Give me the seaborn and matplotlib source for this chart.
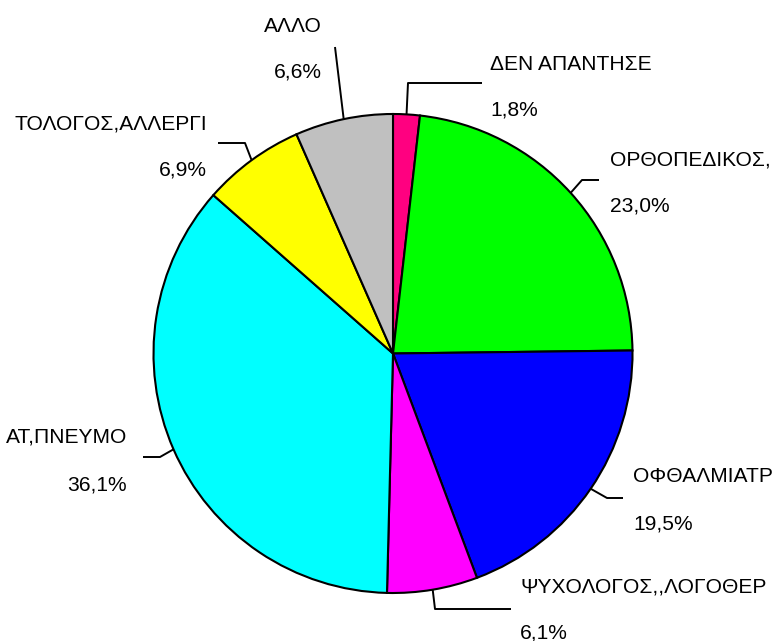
import numpy as np
import matplotlib
matplotlib.use("Agg")
import matplotlib.pyplot as plt
import seaborn as sns

# ---- data (labels as visible in the reference, which cuts them at the edges) ----
categories = ["ΔΕΝ ΑΠΑΝΤΗΣΕ", "ΟΡΘΟΠΕΔΙΚΟΣ,", "ΟΦΘΑΛΜΙΑΤΡ",
              "ΨΥΧΟΛΟΓΟΣ,,ΛΟΓΟΘΕΡ", "ΑΤ,ΠΝΕΥΜΟ",
              "ΤΟΛΟΓΟΣ,ΑΛΛΕΡΓΙ", "ΑΛΛΟ"]
values = [1.8, 23.0, 19.5, 6.1, 36.1, 6.9, 6.6]
colors = ["#FF0080", "#00FF00", "#0000FF", "#FF00FF", "#00FFFF", "#FFFF00", "#C0C0C0"]

sns.set_theme(style="white")
plt.rcParams["font.family"] = ["Liberation Sans", "DejaVu Sans"]

W, H = 776, 641
fig = plt.figure(figsize=(W / 100, H / 100), dpi=100)
ax = fig.add_axes([0, 0, 1, 1])

def Y(py):
    return H - py

cx, cy, R = 393, 353.5, 239.5
palette = sns.color_palette(colors)
wedges, _ = ax.pie(values, colors=palette, startangle=90, counterclock=False,
                   center=(cx, Y(cy)), radius=R,
                   wedgeprops=dict(edgecolor="black", linewidth=1.5))
ax.set_xlim(0, W)
ax.set_ylim(0, H)
ax.set_aspect("equal")
ax.axis("off")

# label layout: (elbow, end, text_x, ha, name_y, pct_y) in pixel coords
layout = [
    ((408, 83), (482, 83), 490, "left", 63, 108),
    ((582, 180), (599, 180), 610, "left", 158, 204),
    ((607, 498), (623, 498), 633, "left", 475, 522),
    ((435, 609), (511, 609), 520, "left", 585, 631),
    ((160, 457), (143, 457), 127, "right", 435, 483),
    ((245, 143), (218, 143), 207, "right", 122, 168),
    (None, (335, 47), 322, "right", 25, 70),
]

fs = 15.1
for w, name, v, (elbow, end, tx, ha, ny, py_) in zip(wedges, categories, values, layout):
    ang = np.deg2rad((w.theta1 + w.theta2) / 2)
    sx = cx + R * np.cos(ang)
    sy = Y(cy) + R * np.sin(ang)
    xs = [sx]
    ys = [sy]
    if elbow is not None:
        xs.append(elbow[0]); ys.append(Y(elbow[1]))
    xs.append(end[0]); ys.append(Y(end[1]))
    ax.plot(xs, ys, color="black", lw=1.4, solid_capstyle="butt", clip_on=False)
    ax.text(tx, Y(ny + 7.5), name, ha=ha, va="baseline", fontsize=fs, color="black")
    pct = f"{v:.1f}%".replace(".", ",")
    ax.text(tx, Y(py_ + 7.5), pct, ha=ha, va="baseline", fontsize=fs, color="black")

fig.savefig("out.png", dpi=100)
